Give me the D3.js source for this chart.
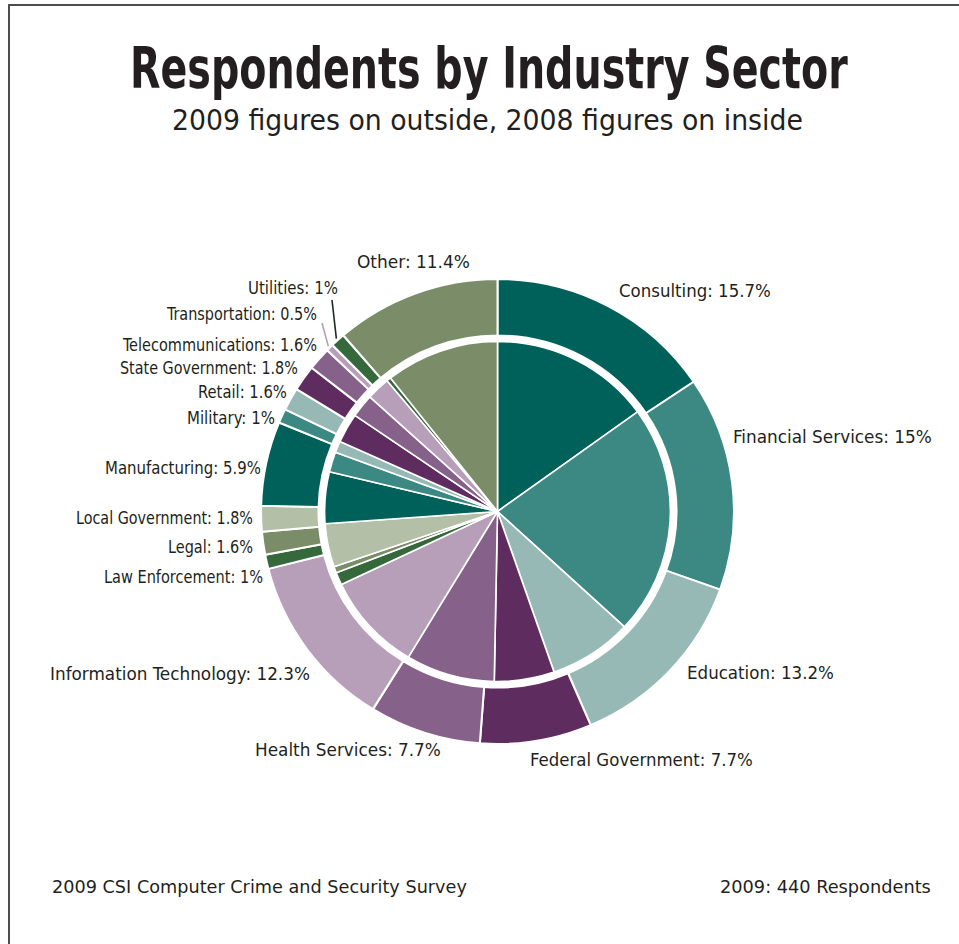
<!DOCTYPE html>
<html>
<head>
<meta charset="utf-8">
<script src="https://cdn.jsdelivr.net/npm/d3@7"></script>
<style>
  html, body { margin: 0; padding: 0; background: #fff; }
  svg { display: block; }
  text { font-family: "Liberation Sans Narrow", "DejaVu Sans Condensed", "Roboto", sans-serif; fill: #231f20; }
</style>
</head>
<body>
<svg id="chart" width="959" height="944"></svg>
<script>
// Industry sectors, clockwise from twelve o'clock
const categories = [
  "Consulting", "Financial Services", "Education", "Federal Government",
  "Health Services", "Information Technology", "Law Enforcement", "Legal",
  "Local Government", "Manufacturing", "Military", "Retail",
  "State Government", "Telecommunications", "Transportation", "Utilities", "Other"
];

// Share of respondents (%), 2009 survey (outer ring)
const values2009 = [15.7, 15, 13.2, 7.7, 7.7, 12.3, 1, 1.6, 1.8, 5.9, 1, 1.6, 1.8, 1.6, 0.5, 1, 11.4];

// Share of respondents (%), 2008 survey (inner pie)
const values2008 = [15.0, 21.8, 7.8, 5.6, 8.3, 9.3, 1.2, 0.6, 4.1, 4.9, 1.9, 1.1, 2.8, 2.2, 2.2, 0.4, 10.6];

// Sector fills: teal, purple and green families repeating
const sliceColors = [
  "#00615a", "#3b8982", "#97b9b5",
  "#5f2c5f", "#86618a", "#b79fb9",
  "#35693b", "#7a8c68", "#b4bfa7",
  "#00615a", "#3b8982", "#97b9b5",
  "#5f2c5f", "#86618a", "#b79fb9",
  "#35693b", "#7a8c68"
];

// Label placement: left edge, vertical centre, set width
const labelLayout = {
  "Consulting":             [619, 291, 152],
  "Financial Services":     [733, 437, 199],
  "Education":              [687, 673, 147],
  "Federal Government":     [530, 760, 223],
  "Health Services":        [255, 750, 186],
  "Information Technology": [50, 674, 260],
  "Law Enforcement":        [104, 577, 159],
  "Legal":                  [168, 547, 85],
  "Local Government":       [76, 518, 177],
  "Manufacturing":          [105, 468, 156],
  "Military":               [187, 418, 88],
  "Retail":                 [198, 392, 89],
  "State Government":       [120, 368, 178],
  "Telecommunications":     [123, 345, 194],
  "Transportation":         [167, 314, 150],
  "Utilities":              [248, 288, 90],
  "Other":                  [357, 262, 113]
};

// Leader lines for the slimmest slices: label end point and stroke colour
const leaders = {
  "Transportation": { x: 322, y: 323, color: "#b79fb9" },
  "Utilities":      { x: 332, y: 300, color: "#1f2a20" }
};

const svg = d3.select("#chart");

// Draw a text line squeezed horizontally to a set width
function fittedText(parent, str, x, baseline, width, size, weight) {
  const t = parent.append("text")
    .attr("x", 0).attr("y", 0)
    .attr("font-size", size)
    .attr("font-weight", weight || "normal")
    .text(str);
  const natural = t.node().getComputedTextLength();
  t.attr("transform", `translate(${x},${baseline}) scale(${width / natural},1)`);
  return t;
}

// Frame
svg.append("rect")
  .attr("x", 9).attr("y", 5)
  .attr("width", 1000).attr("height", 1000)
  .attr("fill", "none")
  .attr("stroke", "#4d4d4d")
  .attr("stroke-width", 2);

// Title block
fittedText(svg, "Respondents by Industry Sector", 130, 88, 718, 57, "bold");
fittedText(svg, "2009 figures on outside, 2008 figures on inside", 172, 130, 631, 28);

// Pie geometry
const cx = 497.5, cy = 511.5, sx = 1.017;
const outerR = 232.5, ringInnerR = 176, innerR = 170;

const pie = d3.pie().sort(null).value(d => d);
const arcs2009 = pie(values2009);
const arcs2008 = pie(values2008);

const outerArc = d3.arc().innerRadius(ringInnerR).outerRadius(outerR);
const innerArc = d3.arc().innerRadius(0).outerRadius(innerR);

const g = svg.append("g").attr("transform", `translate(${cx},${cy}) scale(${sx},1)`);

g.append("g").selectAll("path")
  .data(arcs2009)
  .join("path")
  .attr("d", outerArc)
  .attr("fill", (d, i) => sliceColors[i])
  .attr("stroke", "#fff")
  .attr("stroke-width", 2)
  .attr("stroke-linejoin", "round");

g.append("g").selectAll("path")
  .data(arcs2008)
  .join("path")
  .attr("d", innerArc)
  .attr("fill", (d, i) => sliceColors[i])
  .attr("stroke", "#fff")
  .attr("stroke-width", 1.6)
  .attr("stroke-linejoin", "round");

// Leader lines from the outer rim to their labels
arcs2009.forEach((d, i) => {
  const ld = leaders[categories[i]];
  if (!ld) return;
  const a = (d.startAngle + d.endAngle) / 2;
  const px = cx + sx * (outerR + 2) * Math.sin(a);
  const py = cy - (outerR + 2) * Math.cos(a);
  svg.append("line")
    .attr("x1", px).attr("y1", py)
    .attr("x2", ld.x).attr("y2", ld.y)
    .attr("stroke", ld.color)
    .attr("stroke-width", 1.6);
});

// Sector labels with 2009 values
const labelSize = 18;
const labelGroup = svg.append("g");
categories.forEach((c, i) => {
  const [lx, ly, lw] = labelLayout[c];
  fittedText(labelGroup, `${c}: ${values2009[i]}%`, lx, ly + labelSize * 0.36, lw, labelSize);
});

// Footer
fittedText(svg, "2009 CSI Computer Crime and Security Survey", 52, 893, 415, 18);
fittedText(svg, "2009: 440 Respondents", 720, 893, 211, 18);
</script>
</body>
</html>
